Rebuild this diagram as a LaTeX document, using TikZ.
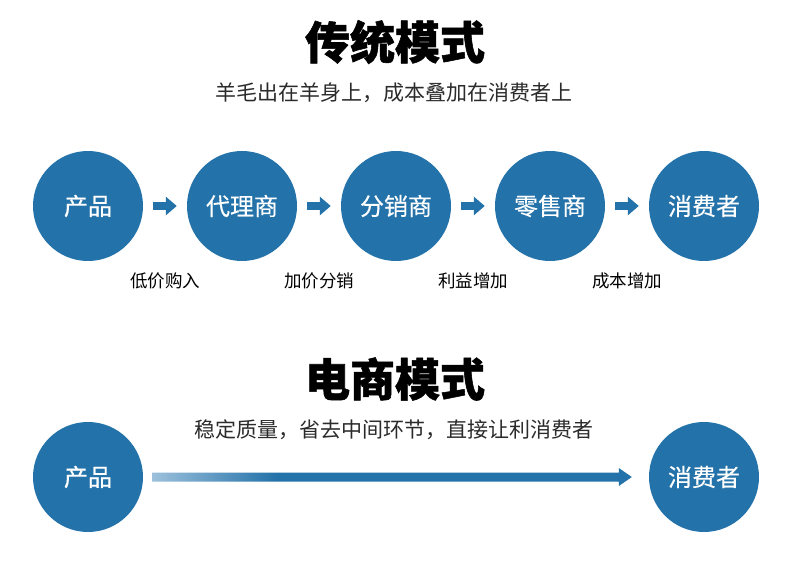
\documentclass[tikz,border=0pt]{standalone}
\usepackage{fontspec}
\setmainfont{Noto Sans CJK SC}
\newfontfamily\titlefont{Noto Sans CJK SC}[BoldFeatures={FakeBold=1.2}]
\newfontfamily\circfont{Noto Sans CJK SC}[FakeBold=0.4]
\usetikzlibrary{arrows.meta,calc}
\definecolor{mainblue}{HTML}{2372A9}
\definecolor{lightblue}{HTML}{9CC0DC}
\definecolor{subgray}{HTML}{2B2B2B}
\pgfdeclarehorizontalshading{longarrowshade}{100bp}{color(0bp)=(lightblue); color(25bp)=(lightblue); color(38bp)=(mainblue); color(100bp)=(mainblue)}
\tikzset{
  circ/.style={circle, fill=mainblue, minimum size=110pt, inner sep=0pt, text=white, font=\circfont\fontsize{24}{24}\selectfont},
  bigtitle/.style={font=\titlefont\bfseries\fontsize{45}{45}\selectfont, text=black},
  subtitle/.style={font=\fontsize{21}{21}\selectfont, text=subgray},
  steplabel/.style={font=\fontsize{17.5}{17.5}\selectfont, text=black},
  smallarrow/.style={draw=mainblue, line width=8pt, -{Triangle[length=11pt,width=18pt]}},
}
\begin{document}
\begin{tikzpicture}[x=1pt,y=-1pt]
\useasboundingbox[fill=white] (0,0) rectangle (790,561);
% top section
\node[bigtitle] (t1) at (395,42) {传统模式};
\node[subtitle] (s1) at (394,93) {羊毛出在羊身上，成本叠加在消费者上};
\node[circ] (p1) at (88,206) {产品};
\node[circ] (p2) at (242,206) {代理商};
\node[circ] (p3) at (396,206) {分销商};
\node[circ] (p4) at (550,206) {零售商};
\node[circ] (p5) at (704,206) {消费者};
\foreach \a/\b in {p1/p2,p2/p3,p3/p4,p4/p5}{
  \draw[smallarrow] ($(\a.east)+(10,0)$) -- ($(\b.west)+(-10,0)$);
}
\node[steplabel] (l1) at (165,281) {低价购入};
\node[steplabel] (l2) at (319,281) {加价分销};
\node[steplabel] (l3) at (473,281) {利益增加};
\node[steplabel] (l4) at (627,281) {成本增加};
% bottom section
\node[bigtitle] (t2) at (395,379) {电商模式};
\node[subtitle] (s2) at (394,430) {稳定质量，省去中间环节，直接让利消费者};
\node[circ] (q1) at (88,477) {产品};
\node[circ] (q2) at (704,477) {消费者};
\coordinate (a0) at ($(q1.east)+(9,0)$);
\coordinate (a2) at ($(q2.west)+(-30,0)$);
\coordinate (a3) at ($(q2.west)+(-17,0)$);
\shade[shading=longarrowshade] ($(a0)+(0,-4.5)$) -- ($(a2)+(0,-4.5)$) -- ($(a2)+(0,-9)$) -- (a3)
  -- ($(a2)+(0,9)$) -- ($(a2)+(0,4.5)$) -- ($(a0)+(0,4.5)$) -- cycle;
\end{tikzpicture}
\end{document}
